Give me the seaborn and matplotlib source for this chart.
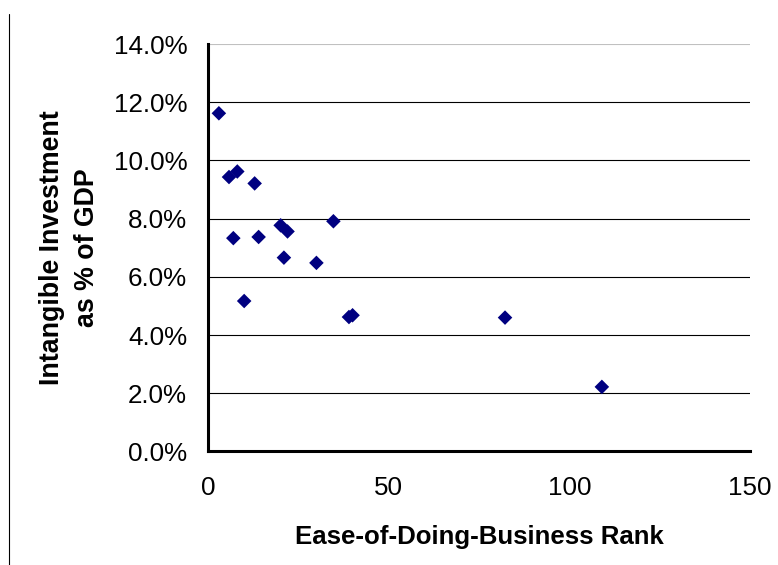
import matplotlib
matplotlib.use("Agg")
import matplotlib.pyplot as plt
import seaborn as sns
import pandas as pd
from matplotlib.lines import Line2D
from matplotlib.ticker import PercentFormatter, MultipleLocator

# Ease-of-doing-business rank vs intangible investment (% of GDP)
rank = [3.0, 5.8, 8.1, 12.9, 7.0, 14.0, 20.1, 22.0, 21.0, 30.0, 34.7, 10.0, 39.0, 40.0, 82.2, 109.0]
intangible = [11.62, 9.43, 9.62, 9.21, 7.33, 7.37, 7.77, 7.56, 6.66, 6.48, 7.91, 5.17, 4.62, 4.68, 4.60, 2.22]

df = pd.DataFrame({"rank": rank, "intangible": intangible})

sns.set_style("white")
plt.rcParams["font.family"] = ["Liberation Sans", "DejaVu Sans"]
plt.rcParams["text.color"] = "black"
plt.rcParams["axes.labelcolor"] = "black"

fig = plt.figure(figsize=(7.78, 5.65), dpi=100)
ax = fig.add_axes([0.2674, 0.2009, 0.6966, 0.7212])

sns.scatterplot(data=df, x="rank", y="intangible", marker="D", s=55,
                color="#000080", edgecolor="none", ax=ax, zorder=3)

ax.set_xlim(0, 150)
ax.set_ylim(0, 14)
ax.xaxis.set_major_locator(MultipleLocator(50))
ax.yaxis.set_major_locator(MultipleLocator(2))
ax.yaxis.set_major_formatter(PercentFormatter(decimals=1))

ax.yaxis.grid(True, color="black", linewidth=0.8)
ax.set_axisbelow(True)

for side in ["top", "right"]:
    ax.spines[side].set_visible(False)
for side in ["left", "bottom"]:
    ax.spines[side].set_linewidth(2.2)
    ax.spines[side].set_color("black")

ax.tick_params(axis="both", direction="out", length=6, width=2, colors="black",
               labelsize=18.7)
ax.tick_params(axis="x", pad=12)
ax.tick_params(axis="y", pad=9)

ax.set_xlabel("Ease-of-Doing-Business Rank", fontsize=18.6, fontweight="bold", labelpad=18)
ax.set_ylabel("Intangible Investment\nas % of GDP", fontsize=19.3, fontweight="bold",
              labelpad=9.5, multialignment="center", linespacing=1.45)

# thin frame edge on the left side of the picture
fig.add_artist(Line2D([0.0116, 0.0116], [0.0, 0.975], color="black", linewidth=0.8))

# top gridline is light grey in the original
fig.canvas.draw()
for tick in ax.yaxis.get_major_ticks():
    if abs(tick.get_loc() - 14) < 1e-6:
        tick.gridline.set_color("#c0c0c0")

fig.savefig("out.png", dpi=100)
